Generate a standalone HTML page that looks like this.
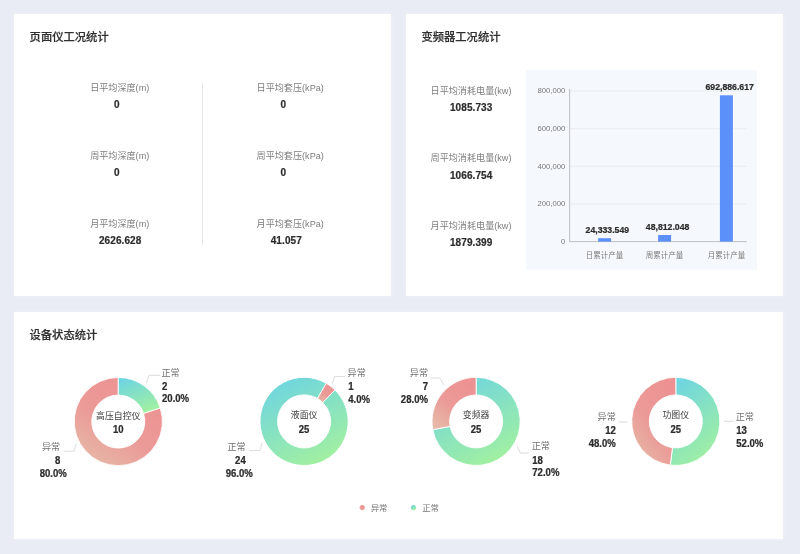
<!DOCTYPE html>
<html lang="zh-CN"><head><meta charset="utf-8"><title>工况统计</title>
<style>
html,body{margin:0;padding:0;}
body{width:800px;height:554px;background:#e9ecf5;position:relative;overflow:hidden;font-family:"Liberation Sans","Noto Sans CJK SC",sans-serif;}
.panel{position:absolute;background:#fff;}
.card{box-shadow:0 0 5px rgba(255,255,255,.45);}
.title{position:absolute;font-size:11.3px;font-weight:500;color:#2f2f2f;-webkit-text-stroke:0.2px #2f2f2f;line-height:16px;white-space:nowrap;}
.lab{position:absolute;font-size:9.1px;color:#7d7d7d;line-height:12px;white-space:nowrap;transform:translateX(-50%);}
.val{position:absolute;font-size:10px;font-weight:bold;color:#2c2c2c;-webkit-text-stroke:0.2px #2c2c2c;line-height:12px;white-space:nowrap;transform:translateX(-50%);letter-spacing:0.1px}
svg{position:absolute;left:0;top:0;}
svg text{font-family:"Liberation Sans","Noto Sans CJK SC",sans-serif;}
</style></head><body>

<div class="panel card" style="left:13.5px;top:14px;width:377px;height:282px"></div>
<div class="panel card" style="left:405.6px;top:14px;width:377.1px;height:282px"></div>
<div class="panel card" style="left:13.5px;top:311.6px;width:769.2px;height:227.3px"></div>
<div class="panel" style="left:526px;top:70px;width:231.4px;height:200px;background:#f5f9fd"></div>
<div class="panel" style="left:202px;top:82.5px;width:1px;height:162.5px;background:#e6e6e8"></div>
<div class="title" style="left:29.6px;top:28.7px">页面仪工况统计</div>
<div class="title" style="left:421.4px;top:28.9px">变频器工况统计</div>
<div class="title" style="left:29.5px;top:327px">设备状态统计</div>
<div class="lab" style="left:119.7px;top:82.3px">日平均深度(m)</div>
<div class="val" style="left:116.9px;top:99.2px">0</div>
<div class="lab" style="left:290.2px;top:82.3px">日平均套压(kPa)</div>
<div class="val" style="left:283.3px;top:99.2px">0</div>
<div class="lab" style="left:119.7px;top:150.2px">周平均深度(m)</div>
<div class="val" style="left:116.9px;top:167.2px">0</div>
<div class="lab" style="left:290.2px;top:150.2px">周平均套压(kPa)</div>
<div class="val" style="left:283.3px;top:167.2px">0</div>
<div class="lab" style="left:119.7px;top:217.7px">月平均深度(m)</div>
<div class="val" style="left:120.2px;top:235.0px">2626.628</div>
<div class="lab" style="left:290.2px;top:217.7px">月平均套压(kPa)</div>
<div class="val" style="left:286.3px;top:235.0px">41.057</div>
<div class="lab" style="left:471px;top:84.7px">日平均消耗电量(kw)</div>
<div class="val" style="left:471.2px;top:101.9px">1085.733</div>
<div class="lab" style="left:471px;top:152.4px">周平均消耗电量(kw)</div>
<div class="val" style="left:471.2px;top:169.6px">1066.754</div>
<div class="lab" style="left:471px;top:220.0px">月平均消耗电量(kw)</div>
<div class="val" style="left:471.2px;top:237.4px">1879.399</div>
<svg width="800" height="554" viewBox="0 0 800 554">
<defs>
<linearGradient id="gN" x1="0" y1="0" x2="0.592" y2="1.201"><stop offset="0" stop-color="#69d2e7"/><stop offset="1" stop-color="#a9f497"/></linearGradient>
<linearGradient id="gA" x1="1" y1="0" x2="0.231" y2="1.154"><stop offset="0" stop-color="#ee8f92"/><stop offset="0.55" stop-color="#eb9a97"/><stop offset="1" stop-color="#e5bfab"/></linearGradient>
</defs>
<text x="565.3" y="243.9" font-size="7.7" fill="#787878" text-anchor="end">0</text>
<line x1="569.6" y1="203.9" x2="746.8" y2="203.9" stroke="#e3e7ec" stroke-width="0.7"/>
<text x="565.3" y="206.2" font-size="7.7" fill="#787878" text-anchor="end">200,000</text>
<line x1="569.6" y1="166.3" x2="746.8" y2="166.3" stroke="#e3e7ec" stroke-width="0.7"/>
<text x="565.3" y="168.6" font-size="7.7" fill="#787878" text-anchor="end">400,000</text>
<line x1="569.6" y1="128.7" x2="746.8" y2="128.7" stroke="#e3e7ec" stroke-width="0.7"/>
<text x="565.3" y="131.0" font-size="7.7" fill="#787878" text-anchor="end">600,000</text>
<line x1="569.6" y1="91.0" x2="746.8" y2="91.0" stroke="#e3e7ec" stroke-width="0.7"/>
<text x="565.3" y="93.3" font-size="7.7" fill="#787878" text-anchor="end">800,000</text>
<line x1="569.6" y1="89.0" x2="569.6" y2="241.6" stroke="#9a9a9a" stroke-width="0.6"/>
<line x1="569.6" y1="241.6" x2="746.8" y2="241.6" stroke="#9a9a9a" stroke-width="0.6"/>
<rect x="598.1" y="238.2" width="13" height="3.4" fill="#5b8ff9"/>
<text transform="translate(607.3,233.33) scale(0.925,1)" font-size="9.4" font-weight="bold" fill="#2c2c2c" stroke="#2c2c2c" stroke-width="0.25" text-anchor="middle">24,333.549</text>
<text x="604.6" y="258" font-size="7.5" fill="#7c7c7c" text-anchor="middle">日累计产量</text>
<rect x="658.1" y="235.0" width="13" height="6.6" fill="#5b8ff9"/>
<text transform="translate(667.6,230.13) scale(0.925,1)" font-size="9.4" font-weight="bold" fill="#2c2c2c" stroke="#2c2c2c" stroke-width="0.25" text-anchor="middle">48,812.048</text>
<text x="664.6" y="258" font-size="7.5" fill="#7c7c7c" text-anchor="middle">周累计产量</text>
<rect x="719.9" y="95.3" width="13" height="146.3" fill="#5b8ff9"/>
<text transform="translate(729.7,90.43) scale(0.925,1)" font-size="9.4" font-weight="bold" fill="#2c2c2c" stroke="#2c2c2c" stroke-width="0.25" text-anchor="middle">692,886.617</text>
<text x="726.4" y="258" font-size="7.5" fill="#7c7c7c" text-anchor="middle">月累计产量</text>
<path d="M160.24,407.92 A44.1,44.1 0 1 1 118.30,377.45 L118.30,395.05 A26.5,26.5 0 1 0 143.50,413.36 Z" fill="url(#gA)" stroke="#fff" stroke-width="0.9" stroke-linejoin="round"/>
<path d="M118.30,377.45 A44.1,44.1 0 0 1 160.24,407.92 L143.50,413.36 A26.5,26.5 0 0 0 118.30,395.05 Z" fill="url(#gN)" stroke="#fff" stroke-width="0.9" stroke-linejoin="round"/>
<text x="118.3" y="418.51" font-size="8.9" fill="#3c3c3c" text-anchor="middle">高压自控仪</text>
<text transform="translate(118.3,433.01) scale(0.9,1)" font-size="10.6" font-weight="bold" fill="#2c2c2c" stroke="#2c2c2c" stroke-width="0.25" text-anchor="middle">10</text>
<text x="161.4" y="375.84" font-size="9.1" fill="#727272" text-anchor="start">正常</text>
<text transform="translate(162.0,389.82) scale(0.94,1)" font-size="10.2" font-weight="bold" fill="#2c2c2c" stroke="#2c2c2c" stroke-width="0.25" text-anchor="start">2</text>
<text transform="translate(162.0,402.42) scale(0.94,1)" font-size="10.2" font-weight="bold" fill="#2c2c2c" stroke="#2c2c2c" stroke-width="0.25" text-anchor="start">20.0%</text>
<path d="M146.4,382.9 L149,375.3 L160.3,375.3" fill="none" stroke="#d2d2d2" stroke-width="0.8"/>
<text x="60.2" y="449.84" font-size="9.1" fill="#727272" text-anchor="end">异常</text>
<text transform="translate(60.3,463.82) scale(0.94,1)" font-size="10.2" font-weight="bold" fill="#2c2c2c" stroke="#2c2c2c" stroke-width="0.25" text-anchor="end">8</text>
<text transform="translate(53.2,476.92) scale(0.94,1)" font-size="10.2" font-weight="bold" fill="#2c2c2c" stroke="#2c2c2c" stroke-width="0.25" text-anchor="middle">80.0%</text>
<path d="M76.35,443.5 L73.9,451.15 L63.75,451.15" fill="none" stroke="#d2d2d2" stroke-width="0.8"/>
<path d="M335.01,389.95 A44.1,44.1 0 1 1 326.28,383.29 L317.43,398.50 A26.5,26.5 0 1 0 322.67,402.50 Z" fill="url(#gN)" stroke="#fff" stroke-width="0.9" stroke-linejoin="round"/>
<path d="M326.28,383.29 A44.1,44.1 0 0 1 335.01,389.95 L322.67,402.50 A26.5,26.5 0 0 0 317.43,398.50 Z" fill="url(#gA)" stroke="#fff" stroke-width="0.9" stroke-linejoin="round"/>
<text x="304.1" y="418.36" font-size="8.9" fill="#3c3c3c" text-anchor="middle">液面仪</text>
<text transform="translate(304.1,432.86) scale(0.9,1)" font-size="10.6" font-weight="bold" fill="#2c2c2c" stroke="#2c2c2c" stroke-width="0.25" text-anchor="middle">25</text>
<text x="347.6" y="376.04" font-size="9.1" fill="#727272" text-anchor="start">异常</text>
<text transform="translate(348.2,390.12) scale(0.94,1)" font-size="10.2" font-weight="bold" fill="#2c2c2c" stroke="#2c2c2c" stroke-width="0.25" text-anchor="start">1</text>
<text transform="translate(348.2,402.82) scale(0.94,1)" font-size="10.2" font-weight="bold" fill="#2c2c2c" stroke="#2c2c2c" stroke-width="0.25" text-anchor="start">4.0%</text>
<path d="M332.4,383.4 L334.4,376.6 L345.1,376.6" fill="none" stroke="#d2d2d2" stroke-width="0.8"/>
<text x="245.6" y="449.84" font-size="9.1" fill="#727272" text-anchor="end">正常</text>
<text transform="translate(245.7,463.82) scale(0.94,1)" font-size="10.2" font-weight="bold" fill="#2c2c2c" stroke="#2c2c2c" stroke-width="0.25" text-anchor="end">24</text>
<text transform="translate(239.2,476.92) scale(0.94,1)" font-size="10.2" font-weight="bold" fill="#2c2c2c" stroke="#2c2c2c" stroke-width="0.25" text-anchor="middle">96.0%</text>
<path d="M262.25,442.9 L260,450.6 L249.3,450.6" fill="none" stroke="#d2d2d2" stroke-width="0.8"/>
<path d="M476.10,377.30 A44.1,44.1 0 1 1 432.78,429.66 L450.07,426.37 A26.5,26.5 0 1 0 476.10,394.90 Z" fill="url(#gN)" stroke="#fff" stroke-width="0.9" stroke-linejoin="round"/>
<path d="M432.78,429.66 A44.1,44.1 0 0 1 476.10,377.30 L476.10,394.90 A26.5,26.5 0 0 0 450.07,426.37 Z" fill="url(#gA)" stroke="#fff" stroke-width="0.9" stroke-linejoin="round"/>
<text x="476.1" y="418.36" font-size="8.9" fill="#3c3c3c" text-anchor="middle">变频器</text>
<text transform="translate(476.1,432.86) scale(0.9,1)" font-size="10.6" font-weight="bold" fill="#2c2c2c" stroke="#2c2c2c" stroke-width="0.25" text-anchor="middle">25</text>
<text x="428" y="375.64" font-size="9.1" fill="#727272" text-anchor="end">异常</text>
<text transform="translate(428,390.42) scale(0.94,1)" font-size="10.2" font-weight="bold" fill="#2c2c2c" stroke="#2c2c2c" stroke-width="0.25" text-anchor="end">7</text>
<text transform="translate(428,402.62) scale(0.94,1)" font-size="10.2" font-weight="bold" fill="#2c2c2c" stroke="#2c2c2c" stroke-width="0.25" text-anchor="end">28.0%</text>
<path d="M443.8,385 L439.6,378 L429.7,378" fill="none" stroke="#d2d2d2" stroke-width="0.8"/>
<text x="531.7" y="449.04" font-size="9.1" fill="#727272" text-anchor="start">正常</text>
<text transform="translate(532.3,463.62) scale(0.94,1)" font-size="10.2" font-weight="bold" fill="#2c2c2c" stroke="#2c2c2c" stroke-width="0.25" text-anchor="start">18</text>
<text transform="translate(532.3,476.02) scale(0.94,1)" font-size="10.2" font-weight="bold" fill="#2c2c2c" stroke="#2c2c2c" stroke-width="0.25" text-anchor="start">72.0%</text>
<path d="M517,445.8 L520.4,453.0 L529,453.0" fill="none" stroke="#d2d2d2" stroke-width="0.8"/>
<path d="M675.80,377.30 A44.1,44.1 0 1 1 670.27,465.15 L672.48,447.69 A26.5,26.5 0 1 0 675.80,394.90 Z" fill="url(#gN)" stroke="#fff" stroke-width="0.9" stroke-linejoin="round"/>
<path d="M670.27,465.15 A44.1,44.1 0 0 1 675.80,377.30 L675.80,394.90 A26.5,26.5 0 0 0 672.48,447.69 Z" fill="url(#gA)" stroke="#fff" stroke-width="0.9" stroke-linejoin="round"/>
<text x="675.8" y="418.36" font-size="8.9" fill="#3c3c3c" text-anchor="middle">功图仪</text>
<text transform="translate(675.8,432.86) scale(0.9,1)" font-size="10.6" font-weight="bold" fill="#2c2c2c" stroke="#2c2c2c" stroke-width="0.25" text-anchor="middle">25</text>
<text x="615.8" y="419.89" font-size="9.1" fill="#727272" text-anchor="end">异常</text>
<text transform="translate(615.8,433.72) scale(0.94,1)" font-size="10.2" font-weight="bold" fill="#2c2c2c" stroke="#2c2c2c" stroke-width="0.25" text-anchor="end">12</text>
<text transform="translate(615.8,446.72) scale(0.94,1)" font-size="10.2" font-weight="bold" fill="#2c2c2c" stroke="#2c2c2c" stroke-width="0.25" text-anchor="end">48.0%</text>
<path d="M618.75,422 L627.5,422" fill="none" stroke="#d2d2d2" stroke-width="0.8"/>
<text x="735.65" y="419.89" font-size="9.1" fill="#727272" text-anchor="start">正常</text>
<text transform="translate(736.25,433.72) scale(0.94,1)" font-size="10.2" font-weight="bold" fill="#2c2c2c" stroke="#2c2c2c" stroke-width="0.25" text-anchor="start">13</text>
<text transform="translate(736.25,446.72) scale(0.94,1)" font-size="10.2" font-weight="bold" fill="#2c2c2c" stroke="#2c2c2c" stroke-width="0.25" text-anchor="start">52.0%</text>
<path d="M723.75,421.3 L733.75,421.3" fill="none" stroke="#d2d2d2" stroke-width="0.8"/>
<circle cx="362.2" cy="507.7" r="2.6" fill="url(#gA)"/>
<text x="370.7" y="510.8" font-size="8.4" fill="#777">异常</text>
<circle cx="413.5" cy="507.7" r="2.6" fill="url(#gN)"/>
<text x="422.2" y="510.8" font-size="8.4" fill="#777">正常</text>
</svg>
</body></html>
